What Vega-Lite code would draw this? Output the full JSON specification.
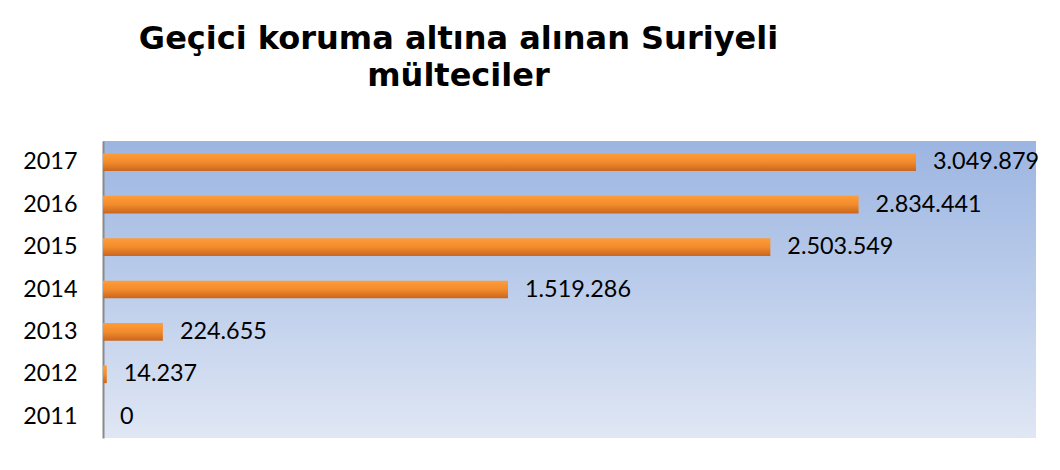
{
  "$schema": "https://vega.github.io/schema/vega-lite/v6.json",
  "width": 933,
  "height": 297,
  "autosize": {"type": "none"},
  "padding": {"left": 103, "top": 141, "right": 24, "bottom": 32},
  "background": "white",
  "title": {
    "text": ["Geçici koruma altına alınan Suriyeli", "mülteciler"],
    "font": "DejaVu Sans",
    "fontWeight": "bold",
    "fontSize": 32,
    "lineHeight": 37,
    "color": "black",
    "anchor": "middle",
    "frame": "group",
    "dx": -111,
    "offset": 48
  },
  "data": {
    "values": [
      {"year": "2011", "value": 0},
      {"year": "2012", "value": 14237},
      {"year": "2013", "value": 224655},
      {"year": "2014", "value": 1519286},
      {"year": "2015", "value": 2503549},
      {"year": "2016", "value": 2834441},
      {"year": "2017", "value": 3049879}
    ]
  },
  "encoding": {
    "y": {
      "field": "year",
      "type": "ordinal",
      "sort": "descending",
      "scale": {"paddingInner": 0.585, "paddingOuter": 0.2925},
      "axis": {
        "title": null,
        "ticks": false,
        "labelPadding": 26,
        "labelFont": "Lato",
        "labelFontSize": 23.4,
        "labelColor": "black",
        "domainColor": "#8a8a8a",
        "domainWidth": 2,
        "grid": false
      }
    },
    "x": {
      "field": "value",
      "type": "quantitative",
      "scale": {"domain": [0, 3500000], "nice": false},
      "axis": null
    }
  },
  "layer": [
    {
      "mark": {
        "type": "bar",
        "color": {
          "gradient": "linear",
          "x1": 0, "y1": 0, "x2": 0, "y2": 1,
          "stops": [
            {"offset": 0, "color": "#ff9c38"},
            {"offset": 0.5, "color": "#f28b2c"},
            {"offset": 1, "color": "#c9661e"}
          ]
        }
      }
    },
    {
      "mark": {
        "type": "text",
        "align": "left",
        "baseline": "middle",
        "dx": 17,
        "font": "Lato",
        "fontSize": 23.4,
        "color": "black"
      },
      "encoding": {
        "text": {"field": "value", "type": "quantitative", "format": ",d"}
      }
    }
  ],
  "config": {
    "locale": {
      "number": {
        "decimal": ",",
        "thousands": ".",
        "grouping": [3],
        "currency": ["", " TL"]
      }
    },
    "view": {
      "stroke": null,
      "fill": {
        "gradient": "linear",
        "x1": 0, "y1": 0, "x2": 0, "y2": 1,
        "stops": [
          {"offset": 0, "color": "#9cb5e1"},
          {"offset": 0.5, "color": "#bccdeb"},
          {"offset": 1, "color": "#e0e7f4"}
        ]
      }
    }
  }
}
